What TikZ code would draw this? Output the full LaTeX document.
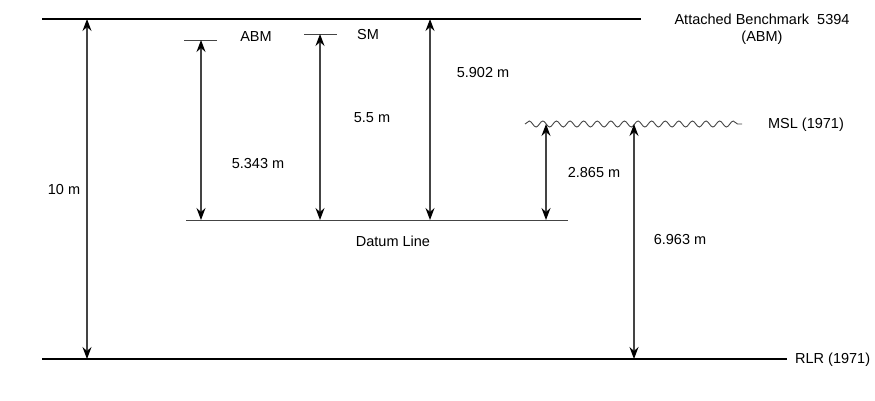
\documentclass[tikz,border=0pt]{standalone}
\usepackage{fontspec}
\setmainfont{Liberation Sans}
\usetikzlibrary{arrows.meta,positioning,decorations.pathmorphing}
\definecolor{dimgray}{HTML}{444444}
\tikzset{
  levelline/.style={line width=2.6pt},
  thinline/.style={line width=1pt, draw=dimgray},
  tip/.tip={Stealth[length=12pt,width=9pt,inset=4pt,black]},
  dimarrow/.style={tip-tip, line width=1.2pt, draw=dimgray},
  wave/.style={decorate, decoration={snake, segment length=13.6pt, amplitude=3pt}, line width=0.9pt, draw=dimgray},
  lbl/.style={font=\fontsize{14.5}{17}\selectfont, inner sep=1pt},
}

\begin{document}
\begin{tikzpicture}[x=1pt,y=-1pt]
\useasboundingbox (0,0) rectangle (875,400);

% Levels.
\coordinate (abmL) at (42,19);   \coordinate (abmR) at (641,19);
\coordinate (rlrL) at (42,359);  \coordinate (rlrR) at (787,359);
\coordinate (datL) at (186,220); \coordinate (datR) at (568,220);
\coordinate (mslL) at (525,124); \coordinate (mslR) at (742,124);
\draw[levelline] (abmL) -- (abmR);
\draw[levelline] (rlrL) -- (rlrR);
\draw[thinline] (datL) -- (datR);
\draw[wave] (mslL) -- (mslR);

% Short marks.
\coordinate (tickA1) at (184,40); \coordinate (tickA2) at (217,40);
\coordinate (tickS1) at (304,34); \coordinate (tickS2) at (337,34);
\draw[thinline] (tickA1) -- (tickA2);
\draw[thinline] (tickS1) -- (tickS2);

% Dimension arrows.
\coordinate (d10t) at (87,19);    \coordinate (d10b) at (87,359);
\coordinate (dAt) at (201,40);    \coordinate (dAb) at (201,220);
\coordinate (dSt) at (320,34);    \coordinate (dSb) at (320,220);
\coordinate (dBt) at (430,19);    \coordinate (dBb) at (430,220);
\coordinate (dMt) at (546,124);   \coordinate (dMb) at (546,220);
\coordinate (dRt) at (634,124);   \coordinate (dRb) at (634,359);
\draw[dimarrow] (d10t) -- (d10b);
\draw[dimarrow] (dAt) -- (dAb);
\draw[dimarrow] (dSt) -- (dSb);
\draw[dimarrow] (dBt) -- (dBb);
\draw[dimarrow] (dMt) -- (dMb);
\draw[dimarrow] (dRt) -- (dRb);

% Labels.
\node[lbl] (l10) at (64,190) {10 m};
\node[lbl] (lA) at (256,37) {ABM};
\node[lbl] (lS) at (368,35) {SM};
\node[lbl] (lAv) at (258,164) {5.343 m};
\node[lbl] (lSv) at (372,118) {5.5 m};
\node[lbl] (lBv) at (483,73) {5.902 m};
\node[lbl] (lMv) at (594,173) {2.865 m};
\node[lbl] (lRv) at (680,240) {6.963 m};
\node[lbl] (ldat) at (393,241) {Datum Line};
\node[lbl, align=center] (labm) at (762,29) {Attached Benchmark\ \ 5394\\(ABM)};
\node[lbl] (lmsl) at (806,125) {MSL (1971)};
\node[lbl, anchor=west] (lrlr) at (794,360) {RLR (1971)};

\end{tikzpicture}
\end{document}
